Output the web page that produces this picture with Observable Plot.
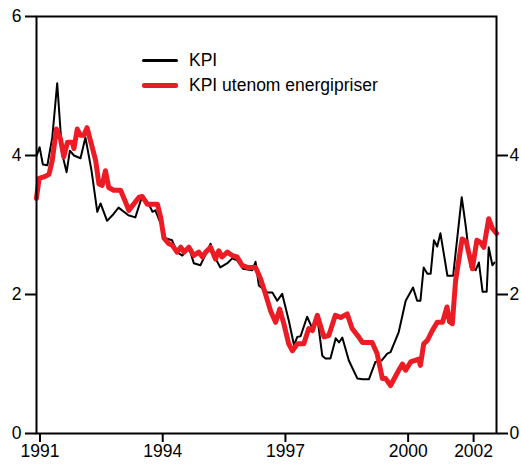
<!DOCTYPE html>
<html>
<head>
<meta charset="utf-8">
<script src="https://cdn.jsdelivr.net/npm/d3@7"></script>
<script src="https://cdn.jsdelivr.net/npm/@observablehq/plot@0.6"></script>
<style>
  html, body { margin: 0; padding: 0; background: #fff; }
  #wrap { position: relative; width: 521px; height: 468px; font-family: "Liberation Sans", Arial, sans-serif; }
  .legend { position: absolute; left: 142px; top: 0; font-size: 17.5px; color: #000; }
  .row { position: absolute; display: flex; align-items: center; white-space: nowrap; }
  .sw { display: inline-block; width: 36px; margin-right: 11px; }
</style>
</head>
<body>
<div id="wrap"></div>
<script>
const seriesNames = ["KPI", "KPI utenom energipriser"];
const seriesColors = ["#000000", "#ed1c24"];

const kpiYears = [1990.92,1990.99,1991.07,1991.18,1991.30,1991.42,1991.54,1991.65,1991.73,1991.83,1991.99,1992.11,1992.26,1992.40,1992.48,1992.64,1992.77,1992.92,1993.16,1993.33,1993.50,1993.65,1993.75,1993.82,1993.95,1994.07,1994.23,1994.35,1994.48,1994.64,1994.76,1994.92,1995.17,1995.25,1995.41,1995.58,1995.70,1995.82,1995.96,1996.19,1996.27,1996.35,1996.56,1996.68,1996.80,1996.92,1997.08,1997.21,1997.29,1997.37,1997.53,1997.66,1997.78,1997.90,1997.98,1998.10,1998.23,1998.31,1998.39,1998.55,1998.76,1998.89,1999.04,1999.20,1999.35,1999.49,1999.57,1999.77,1999.94,2000.12,2000.22,2000.30,2000.38,2000.47,2000.55,2000.63,2000.71,2000.79,2000.96,2001.10,2001.31,2001.40,2001.53,2001.65,2001.73,2001.82,2001.92,2001.97,2002.06,2002.11];
const kpiValues = [4.00,4.12,3.87,3.86,4.26,5.04,4.03,3.76,4.07,4.00,3.96,4.26,3.78,3.19,3.31,3.06,3.14,3.25,3.14,3.11,3.42,3.31,3.19,3.21,3.02,2.81,2.78,2.61,2.56,2.68,2.45,2.42,2.73,2.56,2.39,2.45,2.52,2.49,2.37,2.35,2.47,2.13,2.03,2.03,1.91,2.01,1.63,1.27,1.39,1.40,1.68,1.51,1.67,1.12,1.08,1.08,1.37,1.31,1.38,1.05,0.79,0.78,0.78,1.03,1.05,1.15,1.17,1.46,1.91,2.10,1.91,1.91,2.39,2.30,2.30,2.78,2.69,2.88,2.27,2.27,3.40,3.02,2.39,2.35,2.46,2.04,2.04,2.68,2.42,2.46];

const coreYears = [1990.91,1990.98,1991.13,1991.22,1991.30,1991.40,1991.50,1991.58,1991.67,1991.79,1991.83,1991.91,1991.99,1992.07,1992.15,1992.36,1992.44,1992.52,1992.60,1992.68,1992.80,1992.97,1993.09,1993.17,1993.29,1993.42,1993.50,1993.62,1993.87,1993.95,1994.03,1994.15,1994.23,1994.35,1994.44,1994.52,1994.64,1994.76,1994.88,1994.97,1995.05,1995.17,1995.29,1995.37,1995.45,1995.58,1995.70,1995.82,1995.94,1996.07,1996.27,1996.39,1996.51,1996.64,1996.76,1996.86,1996.96,1997.08,1997.17,1997.29,1997.45,1997.57,1997.66,1997.78,1997.94,1998.06,1998.22,1998.35,1998.51,1998.63,1998.79,1998.88,1999.12,1999.24,1999.37,1999.45,1999.57,1999.77,1999.86,1999.94,2000.06,2000.26,2000.30,2000.38,2000.47,2000.59,2000.71,2000.84,2000.95,2001.01,2001.08,2001.16,2001.32,2001.42,2001.57,2001.68,2001.77,2001.85,2001.97,2002.06,2002.16];
const coreValues = [3.38,3.67,3.70,3.73,3.93,4.38,4.24,3.98,4.19,4.19,4.10,4.38,4.29,4.29,4.40,3.93,3.59,3.57,3.78,3.54,3.50,3.50,3.33,3.21,3.30,3.40,3.41,3.30,3.30,3.11,2.81,2.73,2.71,2.61,2.68,2.61,2.68,2.56,2.61,2.54,2.61,2.68,2.51,2.63,2.54,2.61,2.56,2.54,2.42,2.39,2.39,2.23,2.01,1.76,1.60,1.79,1.58,1.29,1.19,1.29,1.29,1.51,1.48,1.70,1.39,1.41,1.70,1.67,1.72,1.51,1.39,1.31,1.31,1.15,0.79,0.79,0.69,0.91,1.00,0.91,1.03,1.07,0.98,1.29,1.34,1.48,1.60,1.60,1.82,1.61,1.58,2.20,2.80,2.76,2.37,2.78,2.75,2.68,3.09,2.95,2.88];

const yTicksLeft = [0, 2, 4, 6];
const yTicksRight = [0, 2, 4];
const xTickValues = [1991, 1994, 1997, 2000, 2001.6];
const xTickLabels = ["1991", "1994", "1997", "2000", "2002"];

const kpi = kpiYears.map((x, i) => ({x, y: kpiValues[i]}));
const core = coreYears.map((x, i) => ({x, y: coreValues[i]}));

const W = 521, H = 468, mL = 36, mR = 25, mT = 16, mB = 35;
const xDomain = [1990.914, 2002.16];
const yDomain = [0, 6];
const FS = 17.5;

const chart = Plot.plot({
  width: W, height: H, marginLeft: mL, marginRight: mR, marginTop: mT, marginBottom: mB,
  style: {fontFamily: "'Liberation Sans', Arial, sans-serif", fontSize: FS + "px", color: "#000", background: "#fff"},
  x: {domain: xDomain},
  y: {domain: yDomain},
  marks: [
    Plot.line(kpi, {x: "x", y: "y", stroke: seriesColors[0], strokeWidth: 2}),
    Plot.line(core, {x: "x", y: "y", stroke: seriesColors[1], strokeWidth: 5, strokeLinejoin: "round"}),
    Plot.frame({stroke: "#000", strokeWidth: 2}),
    Plot.axisY({anchor: "left", ticks: yTicksLeft, tickFormat: d => String(d), tickSize: 11, tickPadding: 4, strokeWidth: 2, label: null, fontSize: FS}),
    Plot.axisY({anchor: "right", ticks: yTicksRight, tickFormat: d => String(d), tickSize: 11, tickPadding: 2, strokeWidth: 2, label: null, fontSize: FS}),
    Plot.axisX({ticks: xTickValues, tickFormat: d => xTickLabels[xTickValues.indexOf(d)], tickSize: 9, tickPadding: 2, strokeWidth: 2, label: null, fontSize: FS})
  ]
});

const wrap = document.getElementById("wrap");
wrap.appendChild(chart);

const legend = document.createElement("div");
legend.className = "legend";
const rowTops = [50, 75];
const thick = [3, 5];
seriesNames.forEach((name, i) => {
  const row = document.createElement("div");
  row.className = "row";
  row.style.top = rowTops[i] + "px";
  row.style.height = "20px";
  const sw = document.createElement("span");
  sw.className = "sw";
  sw.style.borderTop = thick[i] + "px solid " + seriesColors[i];
  sw.style.borderRadius = "2px";
  const t = document.createElement("span");
  t.textContent = name;
  row.appendChild(sw);
  row.appendChild(t);
  legend.appendChild(row);
});
wrap.appendChild(legend);
</script>
</body>
</html>
